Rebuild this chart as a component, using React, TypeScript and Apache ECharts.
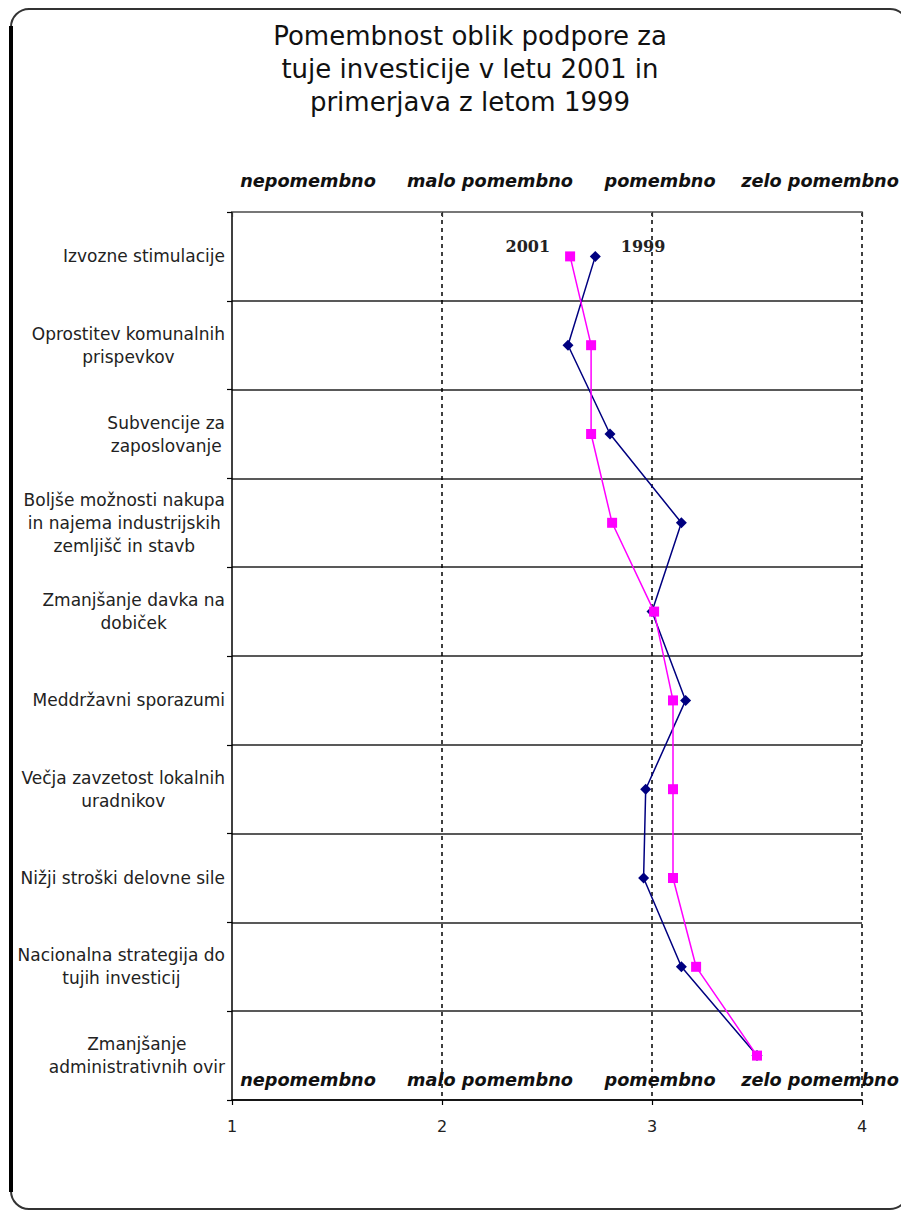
import React, { useEffect, useRef } from "react";
import * as echarts from "echarts";

// Support measures (rows, top to bottom)
const categories: string[] = [
  "Izvozne stimulacije",
  "Oprostitev komunalnih\nprispevkov",
  "Subvencije za\nzaposlovanje",
  "Boljše možnosti nakupa\nin najema industrijskih\nzemljišč in stavb",
  "Zmanjšanje davka na\ndobiček",
  "Meddržavni sporazumi",
  "Večja zavzetost lokalnih\nuradnikov",
  "Nižji stroški delovne sile",
  "Nacionalna strategija do\ntujih investicij",
  "Zmanjšanje\nadministrativnih ovir",
];

// Average importance score (1 = nepomembno … 4 = zelo pomembno)
const values1999: number[] = [2.73, 2.6, 2.8, 3.14, 3.0, 3.16, 2.97, 2.96, 3.14, 3.5];
const values2001: number[] = [2.61, 2.71, 2.71, 2.81, 3.01, 3.1, 3.1, 3.1, 3.21, 3.5];

const scaleLabels: string[] = ["nepomembno", "malo pomembno", "pomembno", "zelo pomembno"];
const titleLines: string[] = [
  "Pomembnost oblik podpore za",
  "tuje investicije v letu 2001 in",
  "primerjava z letom 1999",
];

const SANS = "DejaVu Sans";

export default function App() {
  const ref = useRef<HTMLDivElement>(null);

  useEffect(() => {
    if (!ref.current) return;
    const chart = echarts.init(ref.current, undefined, { renderer: "svg" });

    const scaleX = [308, 490, 660, 820];
    const headerTexts: any[] = [];
    [181, 1080].forEach((y) => {
      scaleLabels.forEach((t, i) => {
        headerTexts.push({
          type: "text",
          x: scaleX[i],
          y,
          z: 10,
          style: {
            text: t,
            fill: "#111",
            font: `italic bold 17.7px "${SANS}"`,
            align: "center",
            verticalAlign: "middle",
          },
        });
      });
    });

    const titleTexts = titleLines.map((t, i) => ({
      type: "text",
      x: 470,
      y: 36 + i * 33,
      style: {
        text: t,
        fill: "#111",
        font: `26px "${SANS}"`,
        align: "center",
        verticalAlign: "middle",
      },
    }));

    const seriesLabel = {
      fontFamily: "DejaVu Serif",
      fontWeight: "bold" as const,
      fontSize: 16,
      color: "#222",
    };

    const data1999 = values1999.map((v, i) =>
      i === 0
        ? {
            value: [v, categories[i]],
            label: {
              show: true,
              position: "right",
              distance: 20,
              offset: [0, -10],
              formatter: "1999",
              ...seriesLabel,
            },
          }
        : { value: [v, categories[i]] }
    );
    const data2001 = values2001.map((v, i) =>
      i === 0
        ? {
            value: [v, categories[i]],
            label: {
              show: true,
              position: "left",
              distance: 15,
              offset: [0, -10],
              formatter: "2001",
              ...seriesLabel,
            },
          }
        : { value: [v, categories[i]] }
    );

    chart.setOption({
      animation: false,
      backgroundColor: "#ffffff",
      textStyle: { fontFamily: SANS },
      grid: { left: 232, right: 39, top: 212, bottom: 110, containLabel: false },
      xAxis: [
        {
          type: "value",
          position: "bottom",
          min: 1,
          max: 4,
          interval: 1,
          axisLine: { show: true, lineStyle: { color: "#000", width: 1.5 } },
          axisTick: { show: true, length: 5, lineStyle: { color: "#000", width: 1.2 } },
          axisLabel: { color: "#222", fontSize: 16, margin: 18, fontFamily: SANS },
          splitLine: {
            show: true,
            showMinLine: false,
            lineStyle: { color: "#000", type: [4, 4], width: 1.5 },
          },
        },
        {
          type: "value",
          position: "top",
          min: 1,
          max: 4,
          interval: 1,
          axisLine: { show: true, lineStyle: { color: "#777", width: 2 } },
          axisTick: { show: true, inside: true, length: 5, lineStyle: { color: "#333", width: 1.2 } },
          axisLabel: { show: false },
          splitLine: { show: false },
        },
      ],
      yAxis: {
        type: "category",
        inverse: true,
        data: categories,
        axisLine: { show: true, onZero: false, lineStyle: { color: "#000", width: 1.5 } },
        axisTick: { show: true, length: 5, lineStyle: { color: "#000", width: 1.2 } },
        axisLabel: {
          interval: 0,
          align: "right",
          margin: 7,
          fontSize: 17,
          lineHeight: 23,
          color: "#222",
          fontFamily: SANS,
          formatter: (v: string) =>
            v
              .split("\n")
              .map((l) => `{c|${l}}`)
              .join("\n"),
          rich: {
            c: { align: "center", fontSize: 17, lineHeight: 23, color: "#222", fontFamily: SANS },
          },
        },
        splitLine: { show: true, lineStyle: { color: "#222", width: 1.5 } },
      },
      graphic: [
        {
          type: "rect",
          shape: { x: 11, y: 9, width: 897, height: 1200, r: 18 },
          style: { fill: "none", stroke: "#333", lineWidth: 2 },
          z: 20,
        },
        {
          type: "line",
          shape: { x1: 11, y1: 26, x2: 11, y2: 1192 },
          style: { stroke: "#000", lineWidth: 4 },
          z: 21,
        },
        ...titleTexts,
        ...headerTexts,
      ],
      series: [
        {
          name: "1999",
          type: "line",
          data: data1999,
          symbol: "diamond",
          symbolSize: 11,
          itemStyle: { color: "#000080" },
          lineStyle: { color: "#000080", width: 1.5 },
          z: 3,
        },
        {
          name: "2001",
          type: "line",
          data: data2001,
          symbol: "rect",
          symbolSize: 10,
          itemStyle: { color: "#ff00ff" },
          lineStyle: { color: "#ff00ff", width: 1.5 },
          z: 4,
        },
      ],
    });

    return () => chart.dispose();
  }, []);

  return (
    <div
      ref={ref}
      style={{ position: "absolute", left: 0, top: 0, width: 901, height: 1210, background: "#fff" }}
    />
  );
}
